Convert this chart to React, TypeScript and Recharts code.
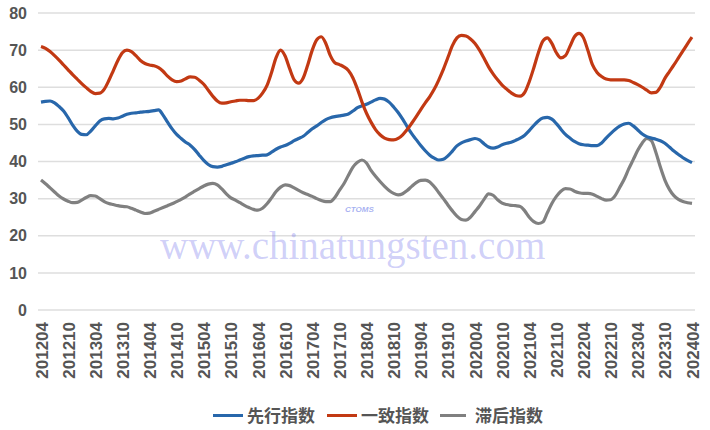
import React from "react";
import { LineChart, Line, XAxis, YAxis, CartesianGrid, Legend } from "recharts";

// Monthly categories 201204 .. 202404
const months: string[] = [];
for (let y = 2012; y <= 2024; y++) {
  for (let m = 1; m <= 12; m++) {
    if ((y === 2012 && m < 4) || (y === 2024 && m > 4)) continue;
    months.push(`${y}${m < 10 ? "0" + m : m}`);
  }
}

const yTicks = [0, 10, 20, 30, 40, 50, 60, 70, 80];

const seriesNames = ["先行指数", "一致指数", "滞后指数"];
const seriesColors = ["#2867ab", "#c23913", "#808080"];

// 先行指数
const leading = [
  56.0, 56.2, 56.3, 55.8, 54.8, 53.6, 51.8, 49.8, 48.2, 47.3, 47.2, 48.2,
  49.6, 50.9, 51.5, 51.6, 51.5, 51.7, 52.2, 52.7, 53.0, 53.1, 53.3, 53.4,
  53.5, 53.7, 53.9, 52.5, 50.6, 48.8, 47.3, 46.2, 45.2, 44.4, 43.2, 41.7,
  40.3, 39.2, 38.6, 38.5, 38.7, 39.1, 39.5, 39.9, 40.4, 40.9, 41.3, 41.5,
  41.6, 41.7, 41.8, 42.5, 43.3, 43.9, 44.3, 44.9, 45.6, 46.2, 46.8, 47.8,
  48.8, 49.6, 50.5, 51.3, 51.8, 52.1, 52.3, 52.5, 52.8, 53.6, 54.5, 55.0,
  55.4, 56.0, 56.6, 57.0, 56.8, 56.0, 54.7, 53.2, 51.4, 49.4, 47.5, 45.9,
  44.3, 42.9, 41.7, 40.9, 40.4, 40.6, 41.5, 42.8, 44.2, 45.0, 45.5, 45.9,
  46.2, 45.8, 44.8, 43.9, 43.6, 43.9, 44.5, 44.9, 45.2, 45.7, 46.3, 47.1,
  48.3, 49.7, 50.9, 51.7, 51.9, 51.4, 50.2, 48.7, 47.3, 46.3, 45.4, 44.8,
  44.5, 44.4, 44.3, 44.3, 45.0, 46.3, 47.5, 48.6, 49.5, 50.1, 50.3, 49.6,
  48.5, 47.4, 46.7, 46.3, 46.0, 45.6, 44.9, 43.9, 42.8, 41.9, 41.0, 40.3,
  39.7,
];

// 一致指数
const coincident = [
  71.0, 70.5, 69.6, 68.5, 67.3, 66.0, 64.7, 63.4, 62.2, 61.0, 59.9, 58.9,
  58.3, 58.4, 59.5, 61.8, 64.5, 67.2, 69.3, 70.0, 69.6, 68.5, 67.2, 66.4,
  66.0, 65.8, 65.3, 64.3, 63.0, 62.0, 61.5, 61.7, 62.3, 62.8, 62.7, 61.9,
  60.8, 59.2, 57.6, 56.3, 55.7, 55.8, 56.1, 56.3, 56.5, 56.5, 56.4, 56.4,
  57.0, 58.4, 60.5, 64.0, 68.0, 70.0, 68.4, 65.0, 62.0, 61.1, 62.5, 66.0,
  70.0, 72.8, 73.6, 71.8, 68.5, 66.6, 66.1, 65.5, 64.5, 62.5, 59.5, 56.0,
  53.0, 50.6, 48.6, 47.2, 46.3, 45.9, 45.8, 46.2, 47.2, 48.6, 50.3, 52.1,
  54.0, 55.8, 57.5, 59.5, 62.0, 64.8, 68.0, 71.2, 73.3, 74.0, 73.8, 73.0,
  71.8, 70.0, 67.8, 65.5, 63.6, 62.0, 60.6, 59.5, 58.5, 57.8, 57.6, 58.6,
  61.5, 65.2, 69.2, 72.4, 73.3, 71.8, 69.3, 67.9, 68.5, 71.0, 73.6, 74.5,
  73.3, 69.8, 66.0, 64.0, 62.9, 62.2, 62.0, 62.0, 62.0, 62.0, 61.8, 61.3,
  60.7, 60.0, 59.2, 58.5, 58.6, 60.0, 62.4, 64.2, 66.0, 67.9, 69.8, 71.7,
  73.5,
];

// 滞后指数
const lagging = [
  35.0, 34.0, 32.9, 31.8, 30.7, 29.9, 29.3, 28.9, 29.0, 29.6, 30.3, 30.8,
  30.7, 30.0, 29.2, 28.7, 28.4, 28.1, 27.9, 27.8, 27.4, 26.9, 26.4, 26.0,
  26.1, 26.6, 27.1, 27.6, 28.1, 28.6, 29.2, 29.8, 30.5, 31.3, 32.0, 32.7,
  33.4, 33.9, 34.1, 33.7, 32.6, 31.3, 30.2, 29.6, 28.9, 28.2, 27.6, 27.1,
  26.9, 27.4, 28.6, 30.2, 31.9, 33.1, 33.7, 33.5, 32.9, 32.2, 31.6, 31.1,
  30.6, 30.0, 29.5, 29.2, 29.2, 30.3, 32.2, 34.0, 36.3, 38.5, 39.8, 40.4,
  39.6, 37.6, 36.0, 34.6, 33.3, 32.2, 31.4, 31.0, 31.3, 32.2, 33.3, 34.3,
  34.9, 35.0, 34.5, 33.2, 31.6, 30.0, 28.3, 26.7, 25.3, 24.4, 24.2, 25.0,
  26.5, 28.0, 29.8, 31.3, 30.9, 29.7, 28.8, 28.4, 28.2, 28.1, 27.9, 26.7,
  25.0, 23.8, 23.3, 23.7, 26.2, 28.7, 30.6, 32.0, 32.7, 32.6, 32.0, 31.6,
  31.4, 31.4, 31.2, 30.6, 30.0, 29.6, 29.7, 30.8, 33.0, 35.2, 38.0, 40.5,
  43.0, 45.0, 46.2, 45.6, 42.5, 38.5, 35.0, 32.5, 30.8, 29.8, 29.2, 28.9,
  28.7,
];

const data = months.map((m, i) => ({
  month: m,
  leading: leading[i],
  coincident: coincident[i],
  lagging: lagging[i],
}));

const FONT = "'Liberation Sans', Arial, sans-serif";
const CJK = "'Noto Sans CJK SC', 'Noto Sans', sans-serif";

const XTick = (props: any) => {
  const { x, y, payload } = props;
  const ty = y + 12;
  const tx = x + 1;
  return (
    <text
      x={tx}
      y={ty}
      transform={`rotate(-90, ${tx}, ${ty})`}
      textAnchor="end"
      dominantBaseline="central"
      fontSize={17}
      fontWeight="bold"
      fontFamily={FONT}
      fill="#555555"
    >
      {payload.value}
    </text>
  );
};

const LegendContent = () => (
  <div
    style={{
      position: "relative",
      height: 30,
      width: 710,
      fontFamily: CJK,
      fontSize: 17,
      color: "#555555",
      fontWeight: "bold",
    }}
  >
    {seriesNames.map((n, i) => {
      const lefts = [213, 327, 440];
      return (
        <div
          key={n}
          style={{
            position: "absolute",
            left: lefts[i],
            top: 0,
            height: 30,
            display: "flex",
            alignItems: "center",
          }}
        >
          <div style={{ width: i === 2 ? 26 : 30, height: 3, background: seriesColors[i] }} />
          <span style={{ marginLeft: i === 2 ? 9 : 4, lineHeight: "30px" }}>{n}</span>
        </div>
      );
    })}
  </div>
);

export default function App() {
  return (
    <div style={{ position: "absolute", left: 0, top: 0, width: 710, height: 430, background: "#fff" }}>
      <LineChart
        width={710}
        height={430}
        data={data}
        margin={{ top: 13, right: 15, bottom: 0, left: 0 }}
      >
        <CartesianGrid vertical={false} stroke="#dedede" strokeWidth={1.5} />
        <XAxis
          dataKey="month"
          interval={5}
          tick={<XTick />}
          tickLine={false}
          axisLine={false}
          tickSize={0}
          tickMargin={0}
          height={90}
          padding={{ left: 3, right: 3 }}
        />
        <YAxis
          domain={[0, 80]}
          ticks={yTicks}
          width={38}
          tickLine={false}
          axisLine={false}
          tickSize={0}
          tickMargin={11}
          tick={{ fontSize: 16, fontWeight: "bold", fill: "#555555", fontFamily: FONT }}
        />
        <Legend verticalAlign="bottom" height={30} content={<LegendContent />} />
        <Line
          type="monotone"
          dataKey="lagging"
          name={seriesNames[2]}
          stroke={seriesColors[2]}
          strokeWidth={3.2}
          dot={false}
          isAnimationActive={false}
        />
        <Line
          type="monotone"
          dataKey="leading"
          name={seriesNames[0]}
          stroke={seriesColors[0]}
          strokeWidth={3.2}
          dot={false}
          isAnimationActive={false}
        />
        <Line
          type="monotone"
          dataKey="coincident"
          name={seriesNames[1]}
          stroke={seriesColors[1]}
          strokeWidth={3.2}
          dot={false}
          isAnimationActive={false}
        />
      </LineChart>
      <div
        style={{
          position: "absolute",
          left: 160,
          top: 223,
          fontFamily: "'Liberation Serif', 'DejaVu Serif', serif",
          fontSize: 39,
          color: "rgba(110, 110, 235, 0.33)",
          pointerEvents: "none",
          whiteSpace: "nowrap",
        }}
      >
        www.chinatungsten.com
      </div>
      <div
        style={{
          position: "absolute",
          left: 345,
          top: 205,
          fontFamily: FONT,
          fontStyle: "italic",
          fontWeight: "bold",
          fontSize: 8,
          color: "rgba(90, 110, 230, 0.55)",
          pointerEvents: "none",
        }}
      >
        CTOMS
      </div>
    </div>
  );
}
